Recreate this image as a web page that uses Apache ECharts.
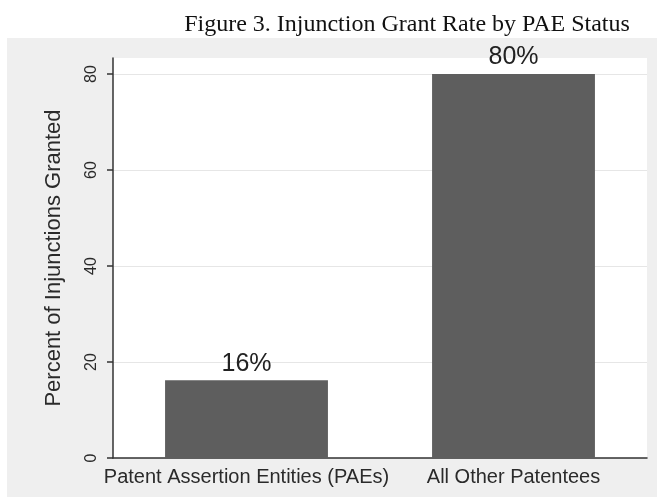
<!DOCTYPE html>
<html>
<head>
<meta charset="utf-8">
<script src="https://cdn.jsdelivr.net/npm/echarts@6/dist/echarts.min.js"></script>
<style>
  html, body { margin: 0; padding: 0; background: #fff; }
  #chart { width: 657px; height: 497px; }
</style>
</head>
<body>
<div id="chart"></div>
<script>
  // data
  var categories = ["Patent Assertion Entities (PAEs)", "All Other Patentees"];
  var grantRate = [16.2, 80];
  var yTicks = [0, 20, 40, 60, 80];

  var chart = echarts.init(document.getElementById("chart"));
  chart.setOption({
    animation: false,
    title: {
      text: "Figure 3. Injunction Grant Rate by PAE Status",
      left: 402,
      textAlign: "center",
      top: 8,
      textStyle: {
        fontFamily: "Liberation Serif",
        fontWeight: "normal",
        fontSize: 24,
        color: "#111"
      }
    },
    // grey stata-like background panel
    graphic: [{
      type: "rect",
      z: -10,
      silent: true,
      shape: { x: 7, y: 38, width: 650, height: 459 },
      style: { fill: "#efefef" }
    }],
    grid: {
      left: 113,
      right: 10,
      top: 58,
      bottom: 39,
      show: true,
      backgroundColor: "#fff",
      borderWidth: 0
    },
    xAxis: {
      type: "category",
      data: categories,
      axisLine: { lineStyle: { color: "#333", width: 1.5 } },
      axisTick: { show: false },
      axisLabel: {
        interval: 0,
        margin: 9,
        fontFamily: "Liberation Sans",
        fontSize: 20,
        color: "#2a2a2a"
      }
    },
    yAxis: {
      type: "value",
      min: 0,
      max: 83.33,
      interval: 20,
      name: "Percent of Injunctions Granted",
      nameLocation: "middle",
      nameGap: 48,
      nameTextStyle: {
        fontFamily: "Liberation Sans",
        fontSize: 22,
        color: "#2a2a2a"
      },
      axisLine: { show: true, lineStyle: { color: "#333", width: 1.5 } },
      axisTick: {
        show: true,
        length: 6,
        customValues: yTicks,
        lineStyle: { color: "#333", width: 1.5 }
      },
      axisLabel: {
        customValues: yTicks,
        rotate: 90,
        margin: 13,
        fontFamily: "Liberation Sans",
        fontSize: 16,
        color: "#2a2a2a"
      },
      splitLine: {
        show: true,
        lineStyle: { color: "#e6e6e6", width: 1 }
      }
    },
    series: [{
      type: "bar",
      data: grantRate,
      barCategoryGap: "39%",
      itemStyle: { color: "#5e5e5e" },
      label: {
        show: true,
        position: "top",
        distance: 4,
        fontFamily: "Liberation Sans",
        fontSize: 25,
        color: "#222",
        formatter: function (p) { return Math.round(p.value) + "%"; }
      }
    }]
  });
</script>
</body>
</html>
